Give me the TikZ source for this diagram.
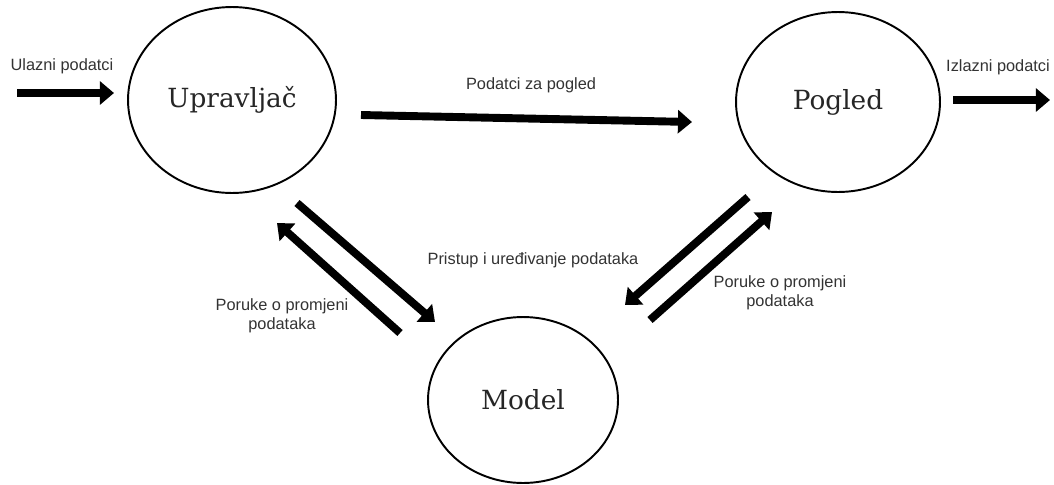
\documentclass[tikz,border=0pt]{standalone}
\usepackage{fontspec}
\setmainfont{DejaVu Serif}
\newfontfamily\labelfont{Liberation Sans}
\usetikzlibrary{arrows.meta,shapes.geometric}

\begin{document}
\begin{tikzpicture}[x=0.02cm, y=-0.02cm, line join=round, >={Triangle[length=8pt,width=13pt]}]
		\tikzset{
			blob/.style={draw, ellipse, line width=1.1pt, inner sep=0pt, font=\fontsize{15}{17}\selectfont, text=black!85},
			flow/.style={->, line width=4.5pt},
			lbl/.style={font=\labelfont\fontsize{9.3}{11}\selectfont, align=center, text=black!80}
		}
		\useasboundingbox (0,0) rectangle (1054,484);
		%\draw[color=gray!50,dashed] (0,0) grid[step=50] (1054,484);
		\node[blob, minimum width=4.16cm, minimum height=3.72cm] (upr) at (232,100) {Upravljač};
		\node[blob, minimum width=4.08cm, minimum height=3.6cm] (pog) at (838,102) {Pogled};
		\node[blob, minimum width=3.8cm, minimum height=3.32cm] (mod) at (523,400) {Model};
		\foreach \n/\x/\y in {in1/17/93, in2/114/93, c1/361/115, c2/692/122, out1/953/100, out2/1050/100,
			a1/297/203, a2/435/322, b1/400/333, b2/277/223, d1/748/197, d2/625/305, e1/650/320, e2/772/212}
			\coordinate (\n) at (\x,\y);
		\foreach \a/\b in {in1/in2, c1/c2, out1/out2, a1/a2, b1/b2, d1/d2, e1/e2}
			\draw[flow] (\a)--(\b);
		\node[lbl] (tin) at (62,66) {Ulazni podatci};
		\node[lbl] (tcp) at (531,85) {Podatci za pogled};
		\node[lbl] (tout) at (998,67) {Izlazni podatci};
		\node[lbl] (tmu) at (282,316) {Poruke o promjeni\\podataka};
		\node[lbl] (tpu) at (533,260) {Pristup i uređivanje podataka};
		\node[lbl] (tmp) at (780,293) {Poruke o promjeni\\podataka};
	\end{tikzpicture}
\end{document}
